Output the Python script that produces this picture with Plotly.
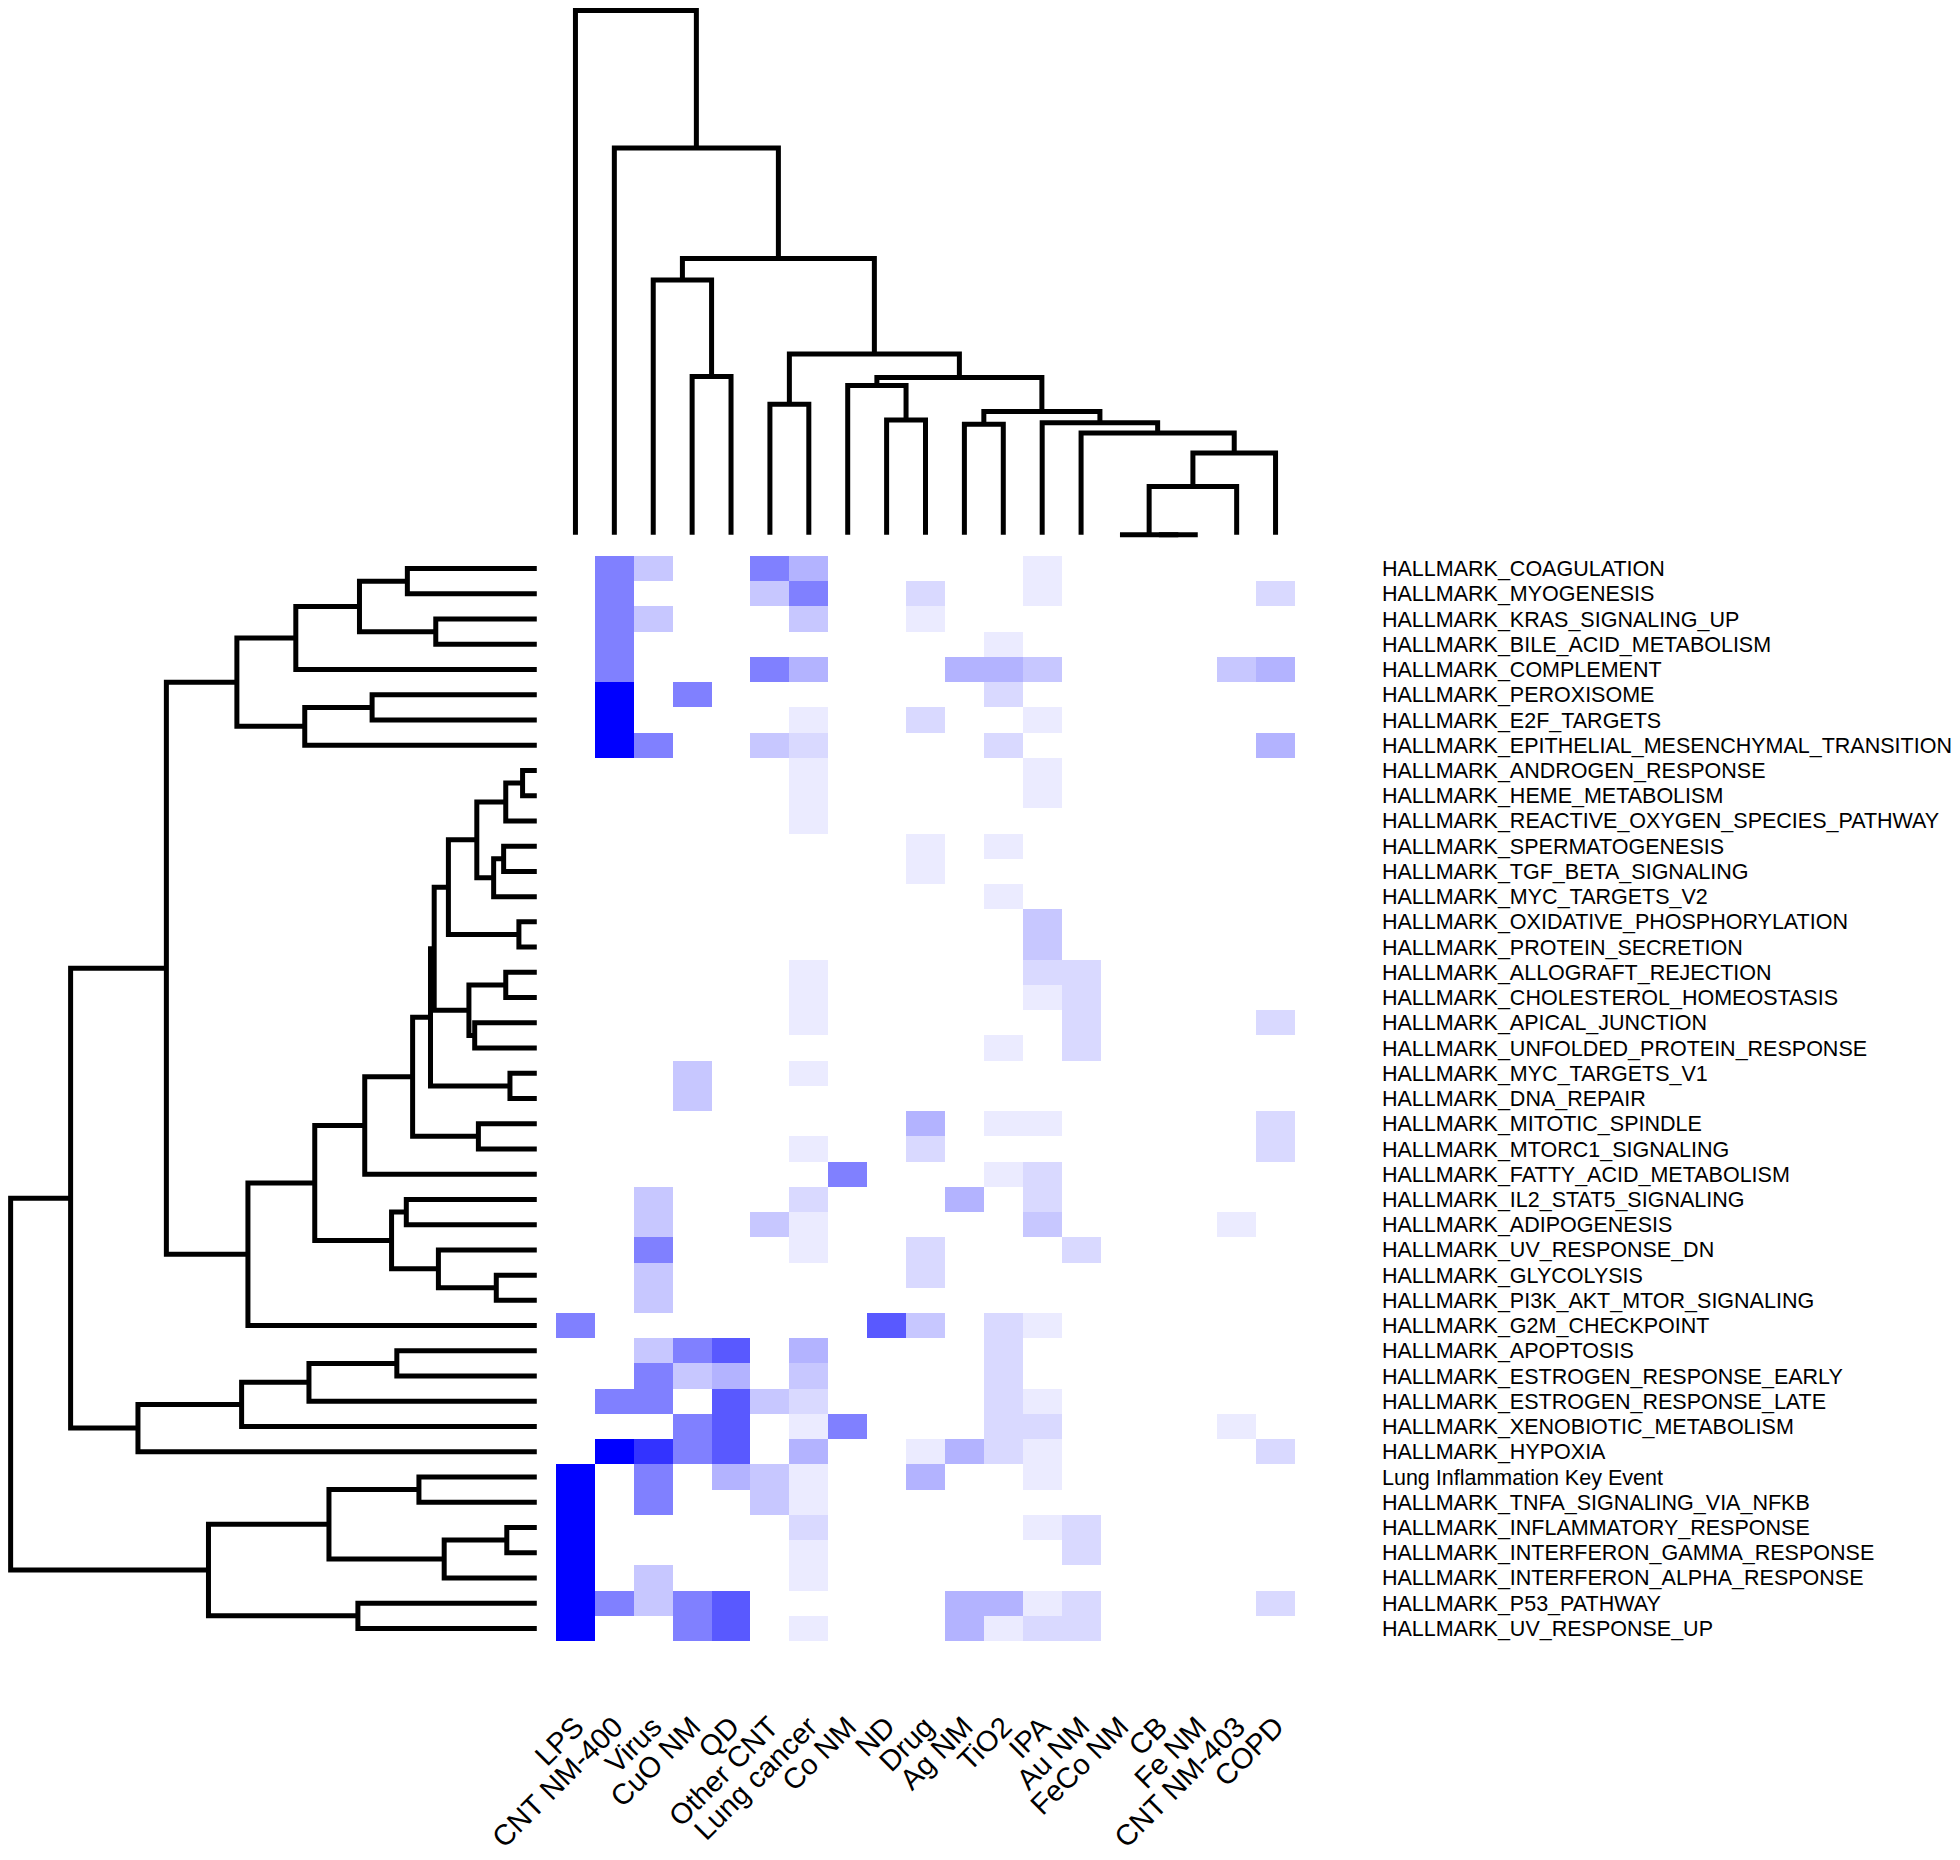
import plotly.graph_objects as go

# ---------------- data ----------------
columns = ["LPS", "CNT NM-400", "Virus", "CuO NM", "QD", "Other CNT", "Lung cancer",
           "Co NM", "ND", "Drug", "Ag NM", "TiO2", "IPA", "Au NM", "FeCo NM", "CB",
           "Fe NM", "CNT NM-403", "COPD"]

pathways = [
    "HALLMARK_COAGULATION", "HALLMARK_MYOGENESIS", "HALLMARK_KRAS_SIGNALING_UP",
    "HALLMARK_BILE_ACID_METABOLISM", "HALLMARK_COMPLEMENT", "HALLMARK_PEROXISOME",
    "HALLMARK_E2F_TARGETS", "HALLMARK_EPITHELIAL_MESENCHYMAL_TRANSITION",
    "HALLMARK_ANDROGEN_RESPONSE", "HALLMARK_HEME_METABOLISM",
    "HALLMARK_REACTIVE_OXYGEN_SPECIES_PATHWAY", "HALLMARK_SPERMATOGENESIS",
    "HALLMARK_TGF_BETA_SIGNALING", "HALLMARK_MYC_TARGETS_V2",
    "HALLMARK_OXIDATIVE_PHOSPHORYLATION", "HALLMARK_PROTEIN_SECRETION",
    "HALLMARK_ALLOGRAFT_REJECTION", "HALLMARK_CHOLESTEROL_HOMEOSTASIS",
    "HALLMARK_APICAL_JUNCTION", "HALLMARK_UNFOLDED_PROTEIN_RESPONSE",
    "HALLMARK_MYC_TARGETS_V1", "HALLMARK_DNA_REPAIR", "HALLMARK_MITOTIC_SPINDLE",
    "HALLMARK_MTORC1_SIGNALING", "HALLMARK_FATTY_ACID_METABOLISM",
    "HALLMARK_IL2_STAT5_SIGNALING", "HALLMARK_ADIPOGENESIS", "HALLMARK_UV_RESPONSE_DN",
    "HALLMARK_GLYCOLYSIS", "HALLMARK_PI3K_AKT_MTOR_SIGNALING", "HALLMARK_G2M_CHECKPOINT",
    "HALLMARK_APOPTOSIS", "HALLMARK_ESTROGEN_RESPONSE_EARLY",
    "HALLMARK_ESTROGEN_RESPONSE_LATE", "HALLMARK_XENOBIOTIC_METABOLISM",
    "HALLMARK_HYPOXIA", "Lung Inflammation Key Event",
    "HALLMARK_TNFA_SIGNALING_VIA_NFKB", "HALLMARK_INFLAMMATORY_RESPONSE",
    "HALLMARK_INTERFERON_GAMMA_RESPONSE", "HALLMARK_INTERFERON_ALPHA_RESPONSE",
    "HALLMARK_P53_PATHWAY", "HALLMARK_UV_RESPONSE_UP",
]

# one row per pathway, one value per column (0 = white, 1 = full blue)
#          LPS  C400 Vir  CuO  QD   OCNT LC   Co   ND   Drug Ag   TiO2 IPA  Au   FeCo CB   Fe   C403 COPD
values = [
    [0,   .5,  .22, 0,   0,   .5,  .3,  0,   0,   0,   0,   0,   .08, 0,   0,   0,   0,   0,   0],
    [0,   .5,  0,   0,   0,   .22, .5,  0,   0,   .15, 0,   0,   .08, 0,   0,   0,   0,   0,   .15],
    [0,   .5,  .22, 0,   0,   0,   .22, 0,   0,   .08, 0,   0,   0,   0,   0,   0,   0,   0,   0],
    [0,   .5,  0,   0,   0,   0,   0,   0,   0,   0,   0,   .08, 0,   0,   0,   0,   0,   0,   0],
    [0,   .5,  0,   0,   0,   .5,  .3,  0,   0,   0,   .3,  .3,  .22, 0,   0,   0,   0,   .22, .3],
    [0,   1,   0,   .5,  0,   0,   0,   0,   0,   0,   0,   .15, 0,   0,   0,   0,   0,   0,   0],
    [0,   1,   0,   0,   0,   0,   .08, 0,   0,   .15, 0,   0,   .08, 0,   0,   0,   0,   0,   0],
    [0,   1,   .5,  0,   0,   .22, .15, 0,   0,   0,   0,   .15, 0,   0,   0,   0,   0,   0,   .3],
    [0,   0,   0,   0,   0,   0,   .08, 0,   0,   0,   0,   0,   .08, 0,   0,   0,   0,   0,   0],
    [0,   0,   0,   0,   0,   0,   .08, 0,   0,   0,   0,   0,   .08, 0,   0,   0,   0,   0,   0],
    [0,   0,   0,   0,   0,   0,   .08, 0,   0,   0,   0,   0,   0,   0,   0,   0,   0,   0,   0],
    [0,   0,   0,   0,   0,   0,   0,   0,   0,   .08, 0,   .08, 0,   0,   0,   0,   0,   0,   0],
    [0,   0,   0,   0,   0,   0,   0,   0,   0,   .08, 0,   0,   0,   0,   0,   0,   0,   0,   0],
    [0,   0,   0,   0,   0,   0,   0,   0,   0,   0,   0,   .08, 0,   0,   0,   0,   0,   0,   0],
    [0,   0,   0,   0,   0,   0,   0,   0,   0,   0,   0,   0,   .22, 0,   0,   0,   0,   0,   0],
    [0,   0,   0,   0,   0,   0,   0,   0,   0,   0,   0,   0,   .22, 0,   0,   0,   0,   0,   0],
    [0,   0,   0,   0,   0,   0,   .08, 0,   0,   0,   0,   0,   .15, .15, 0,   0,   0,   0,   0],
    [0,   0,   0,   0,   0,   0,   .08, 0,   0,   0,   0,   0,   .08, .15, 0,   0,   0,   0,   0],
    [0,   0,   0,   0,   0,   0,   .08, 0,   0,   0,   0,   0,   0,   .15, 0,   0,   0,   0,   .15],
    [0,   0,   0,   0,   0,   0,   0,   0,   0,   0,   0,   .08, 0,   .15, 0,   0,   0,   0,   0],
    [0,   0,   0,   .22, 0,   0,   .08, 0,   0,   0,   0,   0,   0,   0,   0,   0,   0,   0,   0],
    [0,   0,   0,   .22, 0,   0,   0,   0,   0,   0,   0,   0,   0,   0,   0,   0,   0,   0,   0],
    [0,   0,   0,   0,   0,   0,   0,   0,   0,   .3,  0,   .08, .08, 0,   0,   0,   0,   0,   .15],
    [0,   0,   0,   0,   0,   0,   .08, 0,   0,   .15, 0,   0,   0,   0,   0,   0,   0,   0,   .15],
    [0,   0,   0,   0,   0,   0,   0,   .5,  0,   0,   0,   .08, .15, 0,   0,   0,   0,   0,   0],
    [0,   0,   .22, 0,   0,   0,   .15, 0,   0,   0,   .3,  0,   .15, 0,   0,   0,   0,   0,   0],
    [0,   0,   .22, 0,   0,   .22, .08, 0,   0,   0,   0,   0,   .22, 0,   0,   0,   0,   .08, 0],
    [0,   0,   .5,  0,   0,   0,   .08, 0,   0,   .15, 0,   0,   0,   .15, 0,   0,   0,   0,   0],
    [0,   0,   .22, 0,   0,   0,   0,   0,   0,   .15, 0,   0,   0,   0,   0,   0,   0,   0,   0],
    [0,   0,   .22, 0,   0,   0,   0,   0,   0,   0,   0,   0,   0,   0,   0,   0,   0,   0,   0],
    [.5,  0,   0,   0,   0,   0,   0,   0,   .65, .22, 0,   .15, .08, 0,   0,   0,   0,   0,   0],
    [0,   0,   .22, .5,  .65, 0,   .3,  0,   0,   0,   0,   .15, 0,   0,   0,   0,   0,   0,   0],
    [0,   0,   .5,  .22, .3,  0,   .22, 0,   0,   0,   0,   .15, 0,   0,   0,   0,   0,   0,   0],
    [0,   .5,  .5,  0,   .65, .22, .15, 0,   0,   0,   0,   .15, .08, 0,   0,   0,   0,   0,   0],
    [0,   0,   0,   .5,  .65, 0,   .08, .5,  0,   0,   0,   .15, .15, 0,   0,   0,   0,   .08, 0],
    [0,   1,   .8,  .5,  .65, 0,   .3,  0,   0,   .08, .3,  .15, .08, 0,   0,   0,   0,   0,   .15],
    [1,   0,   .5,  0,   .3,  .22, .08, 0,   0,   .3,  0,   0,   .08, 0,   0,   0,   0,   0,   0],
    [1,   0,   .5,  0,   0,   .22, .08, 0,   0,   0,   0,   0,   0,   0,   0,   0,   0,   0,   0],
    [1,   0,   0,   0,   0,   0,   .15, 0,   0,   0,   0,   0,   .08, .15, 0,   0,   0,   0,   0],
    [1,   0,   0,   0,   0,   0,   .08, 0,   0,   0,   0,   0,   0,   .15, 0,   0,   0,   0,   0],
    [1,   0,   .22, 0,   0,   0,   .08, 0,   0,   0,   0,   0,   0,   0,   0,   0,   0,   0,   0],
    [1,   .5,  .22, .5,  .65, 0,   0,   0,   0,   0,   .3,  .3,  .08, .15, 0,   0,   0,   0,   .15],
    [1,   0,   0,   .5,  .65, 0,   .08, 0,   0,   0,   .3,  .08, .15, .15, 0,   0,   0,   0,   0],
]

# hierarchical clustering merges: [child_a, child_b, height]; ids >= n are earlier merges
column_merges = [
    [15, 16, 0.0], [14, 19, 0.0], [20, 17, 0.092], [21, 18, 0.156], [13, 22, 0.194],
    [12, 23, 0.214], [10, 11, 0.211], [25, 24, 0.235], [8, 9, 0.219], [7, 27, 0.285],
    [28, 26, 0.300], [5, 6, 0.249], [30, 29, 0.345], [3, 4, 0.302], [2, 32, 0.486],
    [33, 31, 0.527], [1, 34, 0.738], [0, 35, 1.0],
]

row_merges = [
    [0, 1, .246], [2, 3, .192], [43, 44, .337], [45, 4, .458], [5, 6, .313],
    [47, 7, .441], [46, 48, .570], [8, 9, .027], [50, 10, .059], [11, 12, .063],
    [52, 13, .082], [51, 53, .114], [14, 15, .034], [54, 55, .168], [16, 17, .059],
    [18, 19, .118], [57, 58, .129], [56, 59, .195], [20, 21, .051], [60, 61, .202],
    [22, 23, .111], [62, 63, .236], [64, 24, .327], [25, 26, .248], [28, 29, .077],
    [27, 67, .187], [66, 68, .276], [65, 69, .422], [70, 30, .549], [49, 71, .704],
    [31, 32, .266], [73, 33, .433], [74, 34, .561], [75, 35, .758], [72, 76, .886],
    [36, 37, .224], [38, 39, .057], [79, 40, .176], [78, 80, .395], [41, 42, .340],
    [81, 82, .624], [77, 83, 1.0],
]


def dendro_segments(merges, n):
    pos = {i: float(i) for i in range(n)}
    hgt = {i: 0.0 for i in range(n)}
    p_list, h_list = [], []
    for k, (a, b, h) in enumerate(merges):
        pa, pb = pos[a], pos[b]
        p_list += [pa, pa, pb, pb, None]
        h_list += [hgt[a], h, h, hgt[b], None]
        pos[n + k] = (pa + pb) / 2.0
        hgt[n + k] = h
    return p_list, h_list


# page body has an 8px margin: shrink the figure so it fills the window exactly
PAGE_MARGIN = 8
W, H = 1960 - PAGE_MARGIN, 1860 - PAGE_MARGIN
FONT = "Liberation Sans, Arial, sans-serif"

# layout geometry in window pixels
hm_left, hm_right, hm_top, hm_bottom = 556, 1295, 556, 1641
cd_top, cd_bottom = 8, 539
rd_left, rd_right = 8, 541


def px_x(p):
    return min(1.0, max(0.0, (p - PAGE_MARGIN) / W))


def px_y(p):
    return min(1.0, max(0.0, 1 - (p - PAGE_MARGIN) / H))


fig = go.Figure()

fig.add_trace(go.Heatmap(
    z=values,
    x=list(range(len(columns))),
    y=list(range(len(pathways))),
    zmin=0, zmax=1,
    colorscale=[[0, "#ffffff"], [1, "#0000ff"]],
    showscale=False,
    hoverinfo="skip",
    xaxis="x", yaxis="y",
))

cx, cy = dendro_segments(column_merges, len(columns))
fig.add_trace(go.Scatter(
    x=cx, y=cy, mode="lines",
    line=dict(color="black", width=5),
    xaxis="x", yaxis="y2", hoverinfo="skip", showlegend=False,
))

ry, rx = dendro_segments(row_merges, len(pathways))
fig.add_trace(go.Scatter(
    x=rx, y=ry, mode="lines",
    line=dict(color="black", width=5),
    xaxis="x3", yaxis="y", hoverinfo="skip", showlegend=False,
))

fig.update_layout(
    template="none",
    width=W, height=H,
    margin=dict(l=0, r=0, t=0, b=0, pad=0, autoexpand=False),
    paper_bgcolor="white", plot_bgcolor="white",
    showlegend=False,
    font=dict(family=FONT, color="black"),
    xaxis=dict(
        domain=[px_x(hm_left), px_x(hm_right)],
        range=[-0.5, len(columns) - 0.5],
        anchor="y",
        automargin=False,
        tickvals=list(range(len(columns))),
        ticktext=columns,
        tickangle=-45,
        tickfont=dict(size=29, family=FONT, color="black"),
        ticks="", ticklabelstandoff=62,
        showgrid=False, zeroline=False, showline=False,
    ),
    yaxis=dict(
        domain=[px_y(hm_bottom), px_y(hm_top)],
        range=[len(pathways) - 0.5, -0.5],
        anchor="x",
        automargin=False,
        side="right",
        tickvals=list(range(len(pathways))),
        ticktext=pathways,
        tickfont=dict(size=21.5, family=FONT, color="black"),
        ticks="", ticklabelstandoff=86,
        showgrid=False, zeroline=False, showline=False,
    ),
    yaxis2=dict(
        domain=[px_y(cd_bottom), px_y(cd_top)],
        range=[-0.008, 1.005],
        anchor="x",
        automargin=False,
        visible=False,
    ),
    xaxis3=dict(
        domain=[px_x(rd_left), px_x(rd_right)],
        range=[1.005, -0.008],
        anchor="y",
        automargin=False,
        visible=False,
    ),
)

fig.write_html("out.html")
